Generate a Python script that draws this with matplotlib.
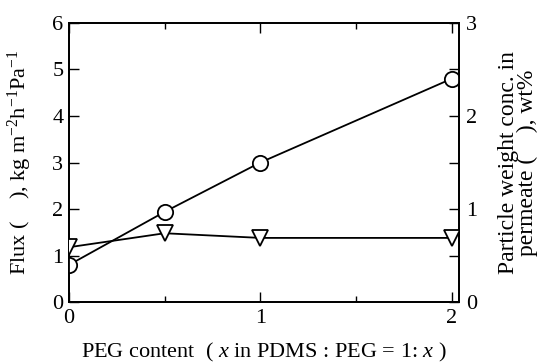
import matplotlib
matplotlib.use("Agg")
import matplotlib.pyplot as plt
from matplotlib.ticker import MultipleLocator

plt.rcParams['font.family'] = ['Liberation Serif']
plt.rcParams['mathtext.fontset'] = 'custom'
plt.rcParams['mathtext.rm'] = 'Liberation Serif'
plt.rcParams['mathtext.it'] = 'Liberation Serif:italic'

peg = [0, 0.5, 1, 2]
flux = [0.80, 1.94, 3.0, 4.8]
conc = [0.59, 0.74, 0.69, 0.69]

fig = plt.figure(figsize=(5.39, 3.64), dpi=100)
ax = fig.add_axes([0.128, 0.170, 0.724, 0.767])
ax2 = ax.twinx()

ax.plot(peg, flux, '-', color='black', lw=1.3, marker='o', ms=11,
        mfc='white', mec='black', mew=1.3, zorder=3)
ax2.plot(peg, conc, '-', color='black', lw=1.3, marker='v', ms=11,
         mfc='white', mec='black', mew=1.3, zorder=3)

ax.set_xlim(0, 2.04)
ax.set_ylim(0, 6)
ax2.set_ylim(0, 3)
ax.xaxis.set_major_locator(MultipleLocator(1))
ax.xaxis.set_minor_locator(MultipleLocator(0.5))
ax.yaxis.set_major_locator(MultipleLocator(1))
ax2.yaxis.set_major_locator(MultipleLocator(1))
ax2.yaxis.set_minor_locator(MultipleLocator(0.5))

ax.tick_params(axis='x', which='both', direction='in', top=True, labelsize=16, pad=5)
ax.tick_params(axis='x', which='major', length=7, width=1)
ax.tick_params(axis='x', which='minor', length=4, width=1)
ax.tick_params(axis='y', which='major', direction='in', length=7, width=1, labelsize=16, pad=4)
ax2.tick_params(axis='y', which='major', direction='in', length=7, width=1, labelsize=16, pad=5)
ax2.tick_params(axis='y', which='minor', direction='in', length=7, width=1)

for a in (ax, ax2):
    for s in a.spines.values():
        s.set_linewidth(1.3)

ax.set_ylabel(r'Flux (    ), kg m$^{-2}$h$^{-1}$Pa$^{-1}$', fontsize=16)
ax.yaxis.set_label_coords(-0.09, 0.5)
ax2.set_ylabel('Particle weight conc. in\npermeate (    ), wt%', fontsize=17,
               rotation=90, linespacing=0.88)
ax2.yaxis.set_label_coords(1.1, 0.5)
ax.set_xlabel(r'PEG content  ( $x$ in PDMS : PEG = 1: $x$ )', fontsize=16)
ax.xaxis.set_label_coords(0.5, -0.138)

fig.savefig('out.png', dpi=100)
